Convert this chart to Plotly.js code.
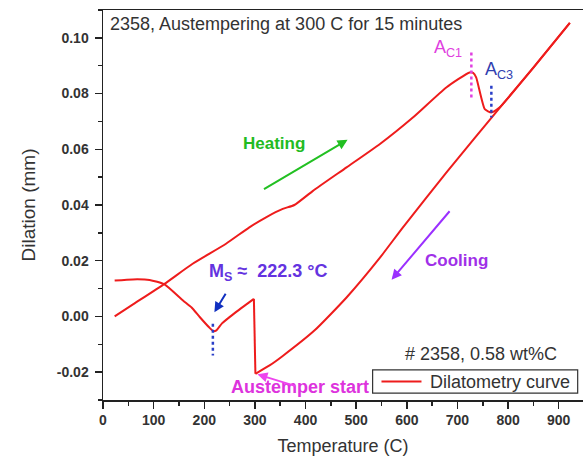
<!DOCTYPE html>
<html>
<head>
<meta charset="utf-8">
<script src="https://cdn.plot.ly/plotly-3.0.1.min.js"></script>
<style>html,body{margin:0;padding:0;background:#fff}#chart{width:583px;height:460px}</style>
</head>
<body>
<div id="chart"></div>
<script>
// Heating segment (room temperature -> 922 C)
const heatingTemp = [23, 60, 121.5, 177, 243, 289, 322, 355, 378, 414, 481, 547, 612, 678, 724, 731, 737, 754, 767, 783, 790, 850, 922];
const heatingDil  = [0.0000, 0.0044, 0.0117, 0.0189, 0.0261, 0.0320, 0.0356, 0.0386, 0.0400, 0.0450, 0.0535, 0.0619, 0.0714, 0.0822, 0.0876, 0.0874, 0.0858, 0.0744, 0.0732, 0.0750, 0.0763, 0.0893, 0.1054];
// Cooling segment (922 C -> austemper start at 300 C)
const coolingTemp = [922, 850, 790, 678, 592, 547, 481, 418, 355, 329, 301];
const coolingDil  = [0.1054, 0.0893, 0.0763, 0.0516, 0.0319, 0.0211, 0.0068, -0.0050, -0.0142, -0.0176, -0.0206];
// Isothermal hold at 300 C (15 minutes)
const holdTemp = [301, 299, 298];
const holdDil  = [-0.0206, -0.0070, 0.0063];
// Final cooling (300 C -> room temperature)
const finalTemp = [298, 260, 235, 224, 218, 210, 191, 175, 158, 121.5, 92, 59, 23];
const finalDil  = [0.0063, 0.0012, -0.0025, -0.0050, -0.0053, -0.0040, -0.0002, 0.0032, 0.0057, 0.0115, 0.0131, 0.0133, 0.0129];

// Tick labels
const xTickVals = [0, 100, 200, 300, 400, 500, 600, 700, 800, 900];
const xTickLabels = ['0', '100', '200', '300', '400', '500', '600', '700', '800', '900'];
const yTickVals = [-0.02, 0.00, 0.02, 0.04, 0.06, 0.08, 0.10];
const yTickLabels = ['-0.02', '0.00', '0.02', '0.04', '0.06', '0.08', '0.10'];

// Marker lines (critical temperatures)
const ac1Temp = [727.5, 727.5];
const ac1Dil = [0.0947, 0.0786];
const ac3Temp = [767, 767];
const ac3Dil = [0.0828, 0.0714];
const msTemp = [217, 217];
const msDil = [-0.0026, -0.0140];

const FONT = 'Liberation Sans, Arial, sans-serif';
const RED = '#ee1c1c';

function seg(x, y, shape) {
  return {x: x, y: y, mode: 'lines', type: 'scatter', showlegend: false, hoverinfo: 'skip',
    line: {color: RED, width: 2, shape: shape, smoothing: 0.5}};
}
const traces = [
  seg(heatingTemp, heatingDil, 'spline'),
  seg(coolingTemp, coolingDil, 'spline'),
  seg(holdTemp, holdDil, 'linear'),
  seg(finalTemp, finalDil, 'spline'),
  {x: ac1Temp, y: ac1Dil, mode: 'lines', showlegend: false, hoverinfo: 'skip',
    line: {color: '#e040e0', width: 2.5, dash: 'dot'}},
  {x: ac3Temp, y: ac3Dil, mode: 'lines', showlegend: false, hoverinfo: 'skip',
    line: {color: '#2a3fc8', width: 2.5, dash: 'dot'}},
  {x: msTemp, y: msDil, mode: 'lines', showlegend: false, hoverinfo: 'skip',
    line: {color: '#2a3fc8', width: 2.5, dash: 'dot'}}
];

function arrow(x, y, ax, ay, color) {
  return {x: x, y: y, ax: ax, ay: ay, xref: 'x', yref: 'y', axref: 'x', ayref: 'y',
    text: '', showarrow: true, arrowhead: 2, arrowsize: 1, arrowwidth: 2, arrowcolor: color};
}
function label(x, y, text, size, color, bold) {
  return {x: x, y: y, xref: 'x', yref: 'y', text: bold ? '<b>' + text + '</b>' : text,
    showarrow: false, xanchor: 'left', yanchor: 'middle',
    font: {family: FONT, size: size, color: color}};
}

const annotations = [
  label(9, 0.1048, '2358, Austempering at 300 C for 15 minutes', 18, '#333', false),
  label(273, 0.0619, 'Heating', 17, '#22bb22', true),
  arrow(483, 0.0634, 315, 0.0454, '#22c022'),
  label(632, 0.0199, 'Cooling', 17, '#a030e8', true),
  arrow(570, 0.0132, 687, 0.0383, '#9b30ff'),
  label(206, 0.0158, 'M<sub>S</sub>\u00A0≈\u00A0\u00A0222.3 °C', 18, '#6433e0', true),
  arrow(220, 0.0015, 244, 0.0087, '#1030c0'),
  label(249, -0.0253, 'Austemper start', 18, '#dd33dd', true),
  arrow(305, -0.0208, 382, -0.0251, '#ee44ee'),
  label(650, 0.0963, 'A<sub>C1</sub>', 18, '#e040e0', false),
  label(751, 0.0884, 'A<sub>C3</sub>', 18, '#3040b0', false),
  label(592, -0.0135, '# 2358, 0.58 wt%C', 18, '#333', false),
  // legend entry text
  label(641, -0.0234, 'Dilatometry curve', 18, '#333', false)
];

const shapes = [
  // legend box and sample line
  {type: 'rect', xref: 'x', yref: 'y', x0: 532.5, x1: 937.5, y0: -0.0275, y1: -0.0192,
    line: {color: '#333', width: 1.2}, fillcolor: '#fff', layer: 'below'},
  {type: 'line', xref: 'x', yref: 'y', x0: 550, x1: 629, y0: -0.0234, y1: -0.0234,
    line: {color: RED, width: 2}}
];

const axisCommon = {
  showline: true, linecolor: '#222', linewidth: 1.5,
  ticks: 'outside', ticklen: 7, tickwidth: 1.5, tickcolor: '#222',
  showgrid: false, zeroline: false,
  tickfont: {family: FONT, size: 14, color: '#333', weight: 'bold'}
};

const layout = {
  width: 583, height: 460,
  margin: {l: 103, r: 0, t: 10, b: 60},
  paper_bgcolor: '#fff', plot_bgcolor: '#fff',
  font: {family: FONT, color: '#333'},
  showlegend: false,
  xaxis: Object.assign({}, axisCommon, {
    range: [0, 948], tickmode: 'array', tickvals: xTickVals, ticktext: xTickLabels,
    mirror: true,
    minor: {tickmode: 'linear', tick0: 0, dtick: 50, ticks: 'outside', ticklen: 4, tickwidth: 1.5, tickcolor: '#222'},
    title: {text: 'Temperature (C)', font: {family: FONT, size: 18, color: '#333'}, standoff: 12}
  }),
  yaxis: Object.assign({}, axisCommon, {
    range: [-0.03, 0.11], tickmode: 'array', tickvals: yTickVals, ticktext: yTickLabels,
    ticklabelstandoff: 3,
    minor: {tickmode: 'linear', tick0: 0, dtick: 0.01, ticks: 'outside', ticklen: 4, tickwidth: 1.5, tickcolor: '#222'},
    title: {text: 'Dilation (mm)', font: {family: FONT, size: 19, color: '#333'}, standoff: 16}
  }),
  shapes: shapes,
  annotations: annotations
};

Plotly.newPlot('chart', traces, layout, {displayModeBar: false, staticPlot: true});
</script>
</body>
</html>
